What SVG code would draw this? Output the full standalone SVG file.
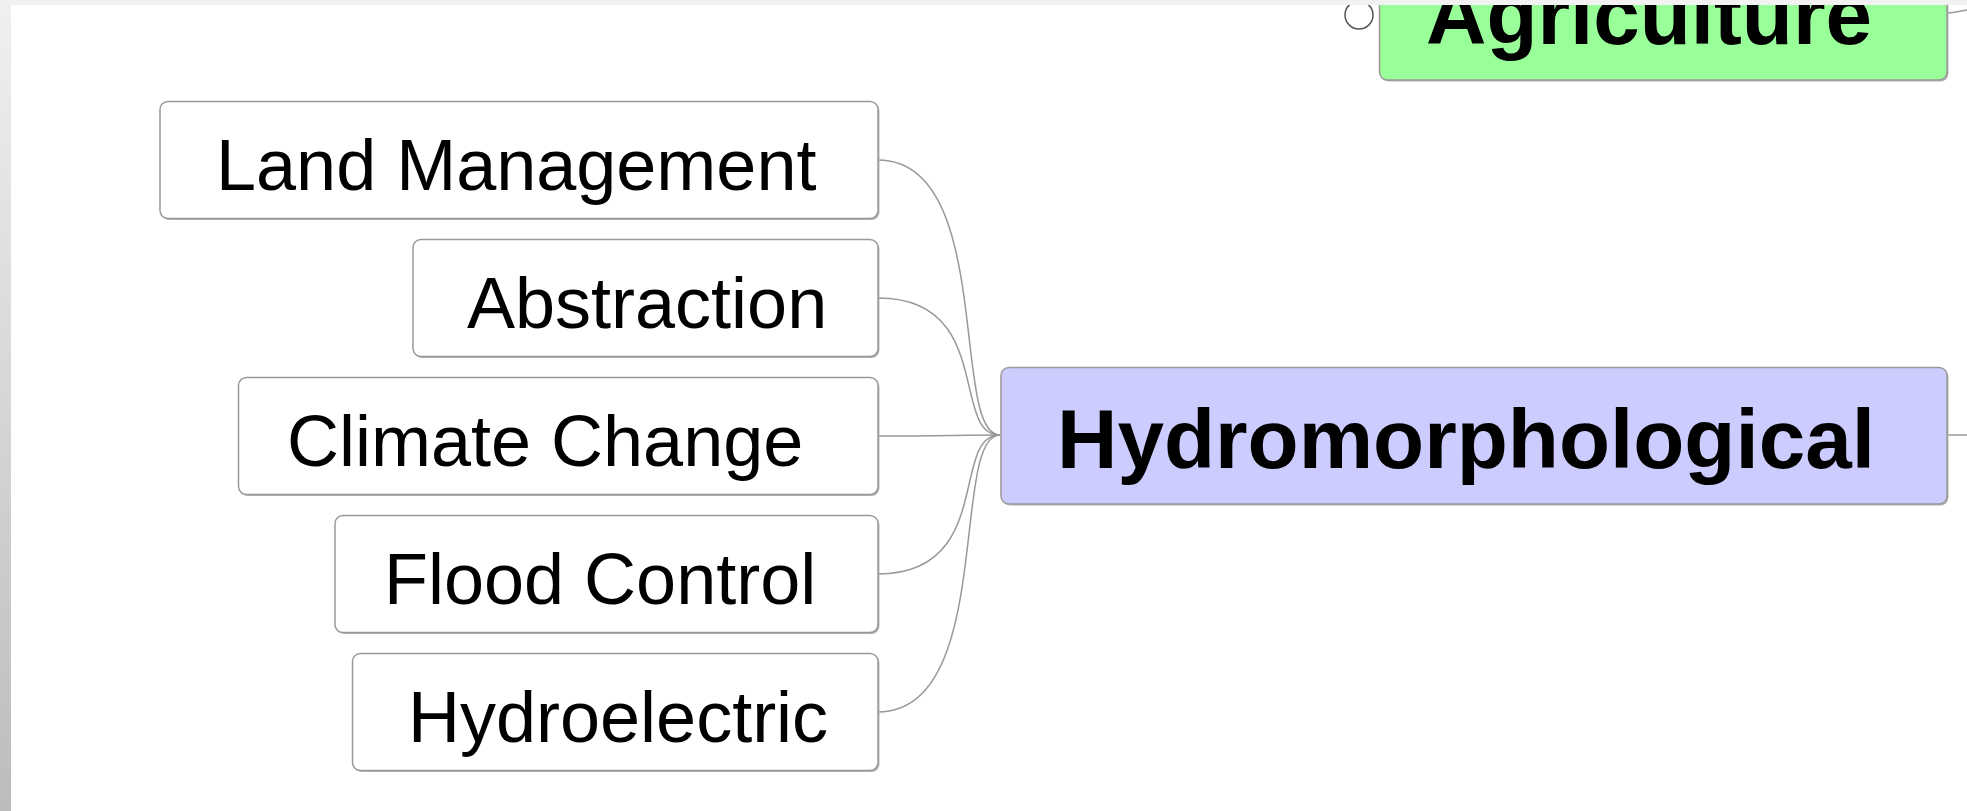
<svg xmlns="http://www.w3.org/2000/svg" width="1967" height="811" viewBox="0 0 1967 811">
<defs>
<linearGradient id="leftStrip" x1="0" y1="0" x2="0" y2="1">
<stop offset="0" stop-color="#f0f0f0"/>
<stop offset="1" stop-color="#bcbcbc"/>
</linearGradient>
<style>
.child rect.box{fill:#ffffff;stroke:#999999;stroke-width:1.5}
.shadow{fill:#b5b5b5}
.label{font-family:"Liberation Sans",Arial,sans-serif;font-size:72px;fill:#000}
.big{font-family:"Liberation Sans",Arial,sans-serif;font-size:83px;font-weight:bold;fill:#000}
.conn path{fill:none;stroke:#999999;stroke-width:1.5}
</style>
</defs>
<rect x="0" y="0" width="1967" height="811" fill="#ffffff"/>

<g id="connectors" class="conn">
<path d="M878,160 C995,160 950,435 1000,435"/>
<path d="M878,298 C995,298 950,435 1000,435"/>
<path d="M878,436 C940,436 960,435 1000,435"/>
<path d="M878,574 C995,574 950,435 1000,435"/>
<path d="M878,712 C995,712 950,435 1000,435"/>
<path d="M1947,435 L1967,435"/>
<path d="M1947,13 C1955,13 1960,11 1967,10"/>
</g>

<g id="node-land-management" class="child">
<rect class="shadow" x="161.5" y="103" width="718" height="117" rx="8"/>
<rect class="box" x="160" y="101.5" width="718" height="117" rx="8"/>
<text class="label" x="216" y="190">Land Management</text>
</g>

<g id="node-abstraction" class="child">
<rect class="shadow" x="414.5" y="241" width="465" height="117" rx="8"/>
<rect class="box" x="413" y="239.5" width="465" height="117" rx="8"/>
<text class="label" x="467" y="328">Abstraction</text>
</g>

<g id="node-climate-change" class="child">
<rect class="shadow" x="240" y="379" width="639.5" height="117" rx="8"/>
<rect class="box" x="238.5" y="377.5" width="639.5" height="117" rx="8"/>
<text class="label" x="287" y="466">Climate Change</text>
</g>

<g id="node-flood-control" class="child">
<rect class="shadow" x="336.5" y="517" width="543" height="117" rx="8"/>
<rect class="box" x="335" y="515.5" width="543" height="117" rx="8"/>
<text class="label" x="384" y="604">Flood Control</text>
</g>

<g id="node-hydroelectric" class="child">
<rect class="shadow" x="354" y="655" width="525.5" height="117" rx="8"/>
<rect class="box" x="352.5" y="653.5" width="525.5" height="117" rx="8"/>
<text class="label" x="408" y="742">Hydroelectric</text>
</g>

<g id="node-hydromorphological">
<rect class="shadow" x="1002.5" y="369" width="946" height="136.5" rx="8"/>
<rect x="1001" y="367.5" width="946" height="136.5" rx="8" fill="#ccccff" stroke="#999999" stroke-width="1.5"/>
<text class="big" x="1057" y="468" textLength="818" lengthAdjust="spacingAndGlyphs">Hydromorphological</text>
</g>

<g id="node-agriculture">
<circle cx="1359" cy="15" r="14" fill="#ffffff" stroke="#555555" stroke-width="1.5"/>
<rect class="shadow" x="1381" y="-55.5" width="567.5" height="137" rx="8"/>
<rect x="1379.5" y="-57" width="567.5" height="137" rx="8" fill="#99ff99" stroke="#999999" stroke-width="1.5"/>
<text class="big" x="1426" y="44" textLength="446" lengthAdjust="spacingAndGlyphs">Agriculture</text>
</g>

<rect x="0" y="0" width="1967" height="5" fill="#f2f2f2"/>
<rect x="0" y="0" width="11" height="811" fill="url(#leftStrip)"/>
</svg>
